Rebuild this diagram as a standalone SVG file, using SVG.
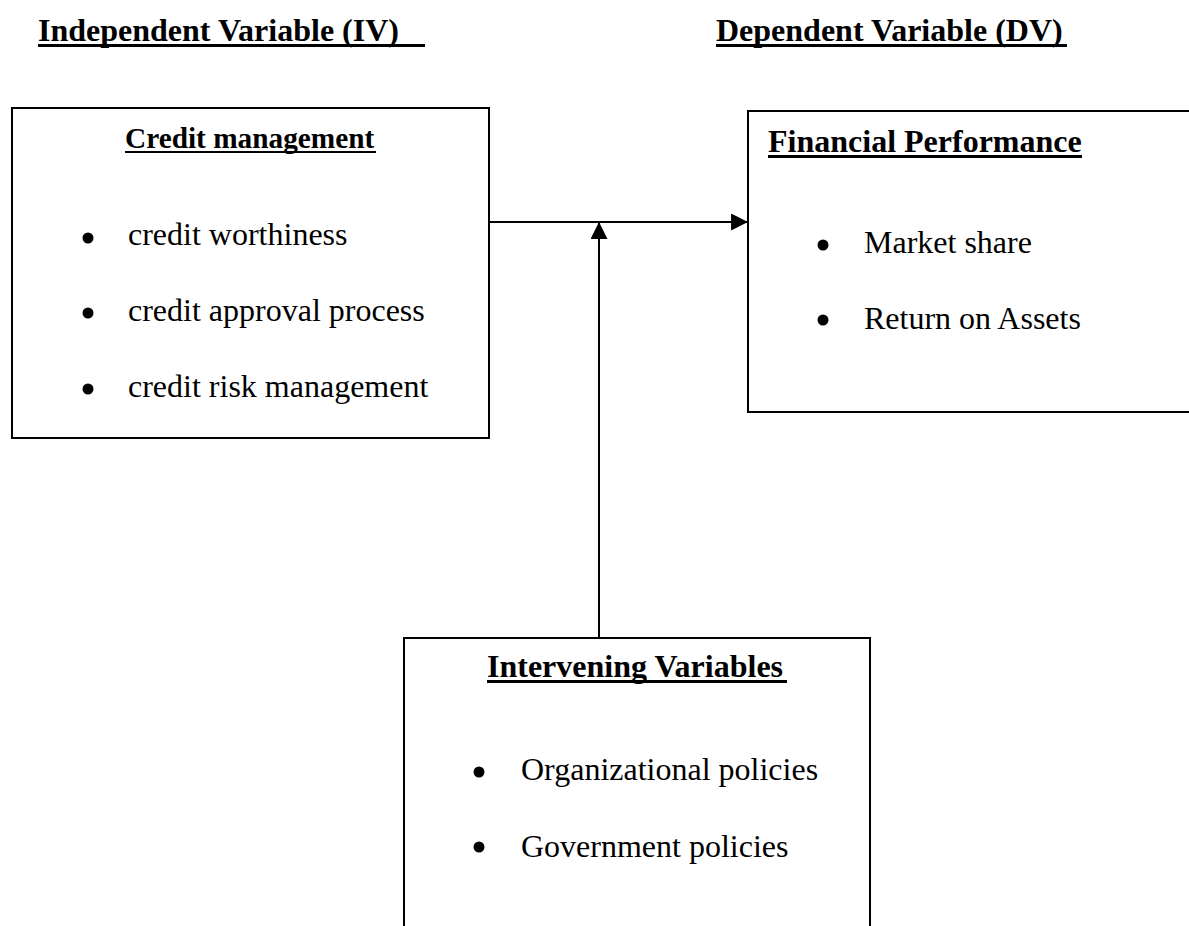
<svg xmlns="http://www.w3.org/2000/svg" width="1189" height="926" viewBox="0 0 1189 926">
  <style>
    .t { font-family: "Liberation Serif", "Times New Roman", serif; fill: #000; }
    .h { font-weight: bold; font-size: 32px; }
    .h2 { font-weight: bold; font-size: 29.3px; }
    .i { font-size: 32px; }
    .box { fill: none; stroke: #000; stroke-width: 2; }
    .ul { fill: #000; }
    .bul { fill: #000; }
    .conn { stroke: #000; stroke-width: 2; fill: none; }
  </style>
  <defs>
    <marker id="arrow" markerUnits="userSpaceOnUse" markerWidth="17" markerHeight="17" viewBox="0 0 16 16" refX="15" refY="8" orient="auto">
      <path d="M0,0 L16,8 L0,16 Z" fill="#000"/>
    </marker>
  </defs>
  <rect width="1189" height="926" fill="#fff"/>

  <g id="header-iv">
    <text class="t h" x="38" y="41">Independent Variable (IV)</text>
    <rect class="ul" x="38" y="44" width="387" height="3"/>
  </g>
  <g id="header-dv">
    <text class="t h" x="716" y="41">Dependent Variable (DV)</text>
    <rect class="ul" x="716" y="44" width="351" height="3"/>
  </g>

  <g id="node-credit">
    <rect class="box" x="12" y="108" width="477" height="330"/>
    <text class="t h2" x="125" y="148">Credit management</text>
    <rect class="ul" x="125" y="151" width="251" height="2"/>
    <circle class="bul" cx="88" cy="238" r="5.5"/>
    <text class="t i" x="128" y="245">credit worthiness</text>
    <circle class="bul" cx="88" cy="313" r="5.5"/>
    <text class="t i" x="128" y="321">credit approval process</text>
    <circle class="bul" cx="88" cy="389" r="5.5"/>
    <text class="t i" x="128" y="397">credit risk management</text>
  </g>

  <g id="node-financial">
    <rect class="box" x="748" y="111" width="460" height="301"/>
    <text class="t h" x="768" y="152">Financial Performance</text>
    <rect class="ul" x="768" y="155" width="314" height="3"/>
    <circle class="bul" cx="823" cy="245" r="5.5"/>
    <text class="t i" x="864" y="253">Market share</text>
    <circle class="bul" cx="823" cy="320" r="5.5"/>
    <text class="t i" x="864" y="329">Return on Assets</text>
  </g>

  <g id="node-intervening">
    <rect class="box" x="404" y="638" width="466" height="310"/>
    <text class="t h" x="487" y="677">Intervening Variables</text>
    <rect class="ul" x="487" y="680" width="300" height="3"/>
    <circle class="bul" cx="479" cy="772" r="5.5"/>
    <text class="t i" x="521" y="780">Organizational policies</text>
    <circle class="bul" cx="479" cy="847" r="5.5"/>
    <text class="t i" x="521" y="857">Government policies</text>
  </g>

  <g id="connectors">
    <line class="conn" x1="489" y1="222" x2="747" y2="222" marker-end="url(#arrow)"/>
    <line class="conn" x1="599" y1="638" x2="599" y2="223" marker-end="url(#arrow)"/>
  </g>
</svg>
